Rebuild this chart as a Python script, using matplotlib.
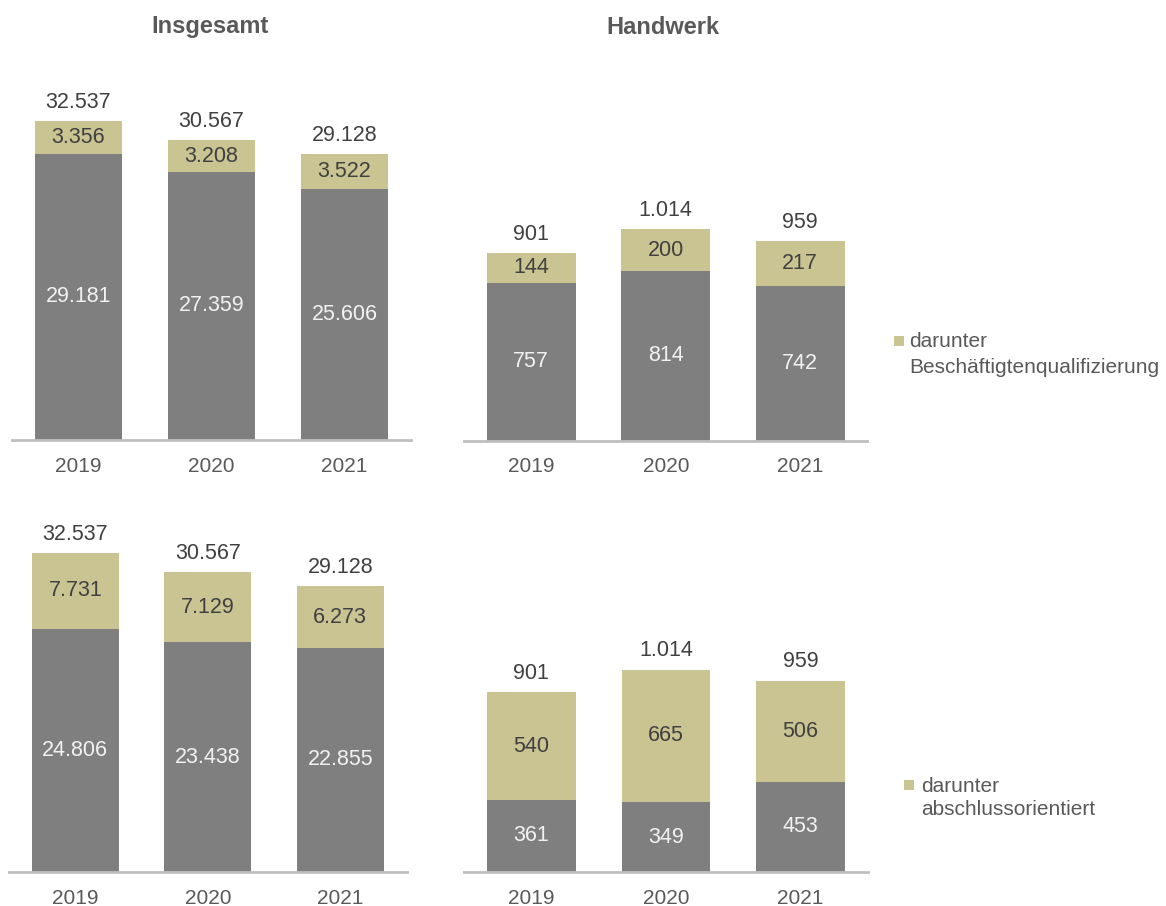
import matplotlib.pyplot as plt
from matplotlib.patches import Rectangle

plt.rcParams['font.family'] = ['Liberation Sans', 'DejaVu Sans']

W, H = 1166, 906

years = ['2019', '2020', '2021']
# oben: darunter Beschäftigtenqualifizierung
ins_rest_1 = [29181, 27359, 25606]
ins_bq = [3356, 3208, 3522]
hw_rest_1 = [757, 814, 742]
hw_bq = [144, 200, 217]
# unten: darunter abschlussorientiert
ins_rest_2 = [24806, 23438, 22855]
ins_ao = [7731, 7129, 6273]
hw_rest_2 = [361, 349, 453]
hw_ao = [540, 665, 506]

GREY = '#7f7f7f'
TAN = '#c9c492'
AXIS = '#bfbfbf'
TXT = '#404040'
LAB = '#595959'


def fmt(v):
    return f'{v:,}'.replace(',', '.')


fig = plt.figure(figsize=(W / 100, H / 100), dpi=100)


def panel(x0, ybase, w, h, ymax, base, top):
    ax = fig.add_axes([x0 / W, 1 - ybase / H, w / W, h / H])
    x = list(range(len(years)))
    ax.bar(x, base, width=0.66, color=GREY)
    ax.bar(x, top, bottom=base, width=0.66, color=TAN)
    ax.set_xlim(-0.5, 2.5)
    ax.set_ylim(0, ymax)
    for i in x:
        ax.text(i, base[i] / 2, fmt(base[i]), ha='center', va='center',
                fontsize=15.5, color='#f2f2f2')
        ax.text(i, base[i] + top[i] / 2, fmt(top[i]), ha='center', va='center',
                fontsize=15.5, color=TXT)
        ax.annotate(fmt(base[i] + top[i]), (i, base[i] + top[i]),
                    xytext=(0, 9.5), textcoords='offset points',
                    ha='center', va='baseline', fontsize=15.5, color=TXT)
    for s in ['top', 'left', 'right']:
        ax.spines[s].set_visible(False)
    ax.spines['bottom'].set_color(AXIS)
    ax.spines['bottom'].set_linewidth(2)
    ax.set_yticks([])
    ax.set_xticks(x)
    ax.set_xticklabels(years)
    ax.tick_params(axis='x', length=0, pad=12, labelsize=15, labelcolor=LAB)
    return ax


panel(12, 440, 399, 380, 38760, ins_rest_1, ins_bq)
panel(464, 440.5, 403.5, 380, 1824, hw_rest_1, hw_bq)
panel(9, 872, 397.5, 380, 38760, ins_rest_2, ins_ao)
panel(464, 872, 404, 380, 1904, hw_rest_2, hw_ao)

fig.text(210 / W, 1 - 27 / H, 'Insgesamt', ha='center', va='center',
         fontsize=17, fontweight='bold', color=LAB)
fig.text(663 / W, 1 - 27 / H, 'Handwerk', ha='center', va='center',
         fontsize=17, fontweight='bold', color=LAB)


def legend(xsq, ysq, xt, yb1, yb2, line2):
    fig.add_artist(Rectangle((xsq / W, 1 - (ysq + 10) / H), 10 / W, 10 / H,
                             transform=fig.transFigure, color=TAN, lw=0))
    fig.text(xt / W, 1 - yb1 / H, 'darunter', ha='left', va='baseline',
             fontsize=15, color=LAB)
    fig.text(xt / W, 1 - yb2 / H, line2, ha='left', va='baseline',
             fontsize=15, color=LAB)


legend(894, 336, 909, 347, 373, 'Beschäftigtenqualifizierung')
legend(904, 780, 921, 792, 815, 'abschlussorientiert')

fig.savefig('out.png', dpi=100, facecolor='white')
